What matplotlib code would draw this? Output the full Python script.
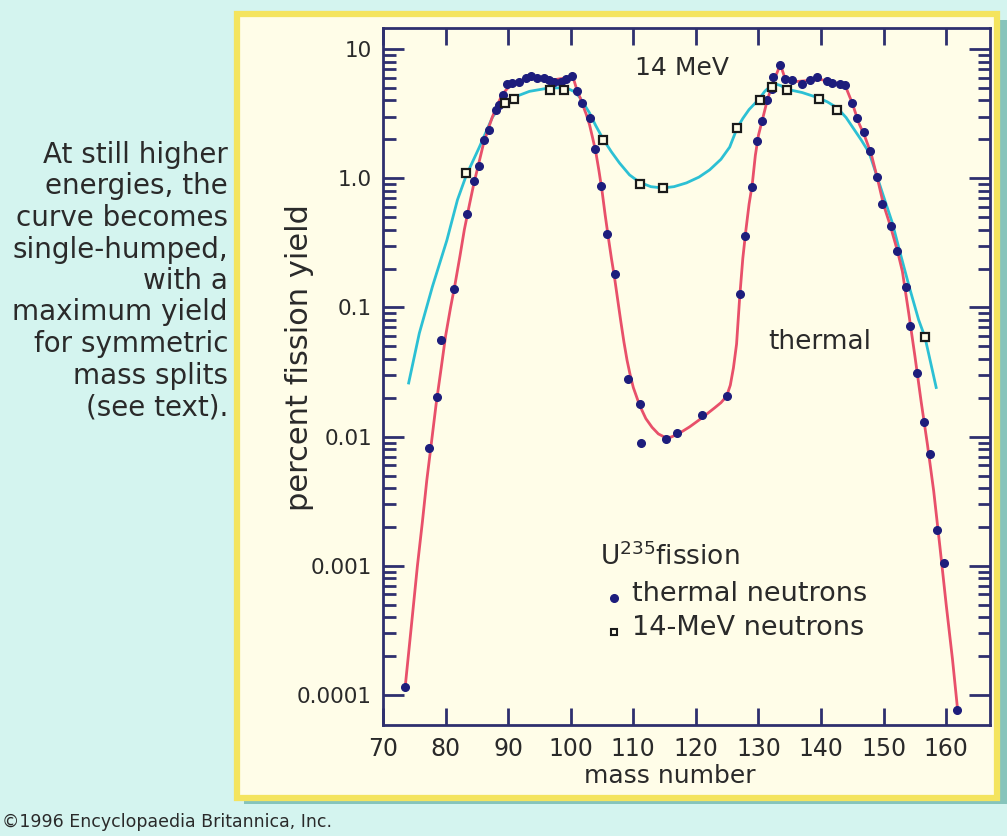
import matplotlib
matplotlib.use('Agg')
import matplotlib.pyplot as plt
from matplotlib.patches import Rectangle
from matplotlib.ticker import FixedLocator, FixedFormatter, NullFormatter

W, H = 1007, 836

# ---------------- data ----------------
thermal_mass = [73.5, 77.4, 78.6, 79.3, 81.4, 83.4, 84.6, 85.4, 86.2, 87.0, 88.1, 88.6,
                89.2, 89.8, 90.6, 91.8, 92.9, 93.7, 94.6, 95.8, 96.6, 97.4, 98.5, 99.3,
                100.2, 101.0, 101.8, 103.0, 103.8, 104.9, 105.8, 107.1, 109.2, 111.0,
                111.3, 115.3, 117.0, 121.0, 124.9, 127.0, 127.9, 129.0, 129.7, 130.6,
                131.4, 132.1, 132.4, 133.5, 134.2, 135.4, 136.9, 138.2, 139.4, 140.9,
                141.8, 143.0, 143.9, 144.9, 145.7, 146.8, 147.9, 148.9, 149.8, 151.1,
                152.2, 153.5, 154.2, 155.4, 156.4, 157.4, 158.5, 159.6, 161.8]
thermal_yield = [1.15e-4, 0.0082, 0.0204, 0.056, 0.138, 0.53, 0.95, 1.24, 1.96, 2.38, 3.4, 3.7,
                 4.4, 5.4, 5.5, 5.6, 6.0, 6.2, 6.0, 6.0, 5.8, 5.6, 5.6, 5.9,
                 6.2, 4.7, 3.8, 2.9, 1.67, 0.87, 0.37, 0.18, 0.028, 0.018,
                 0.0089, 0.0095, 0.0107, 0.0148, 0.0205, 0.126, 0.358, 0.85, 1.93, 2.75,
                 4.0, 4.9, 6.1, 7.5, 5.9, 5.8, 5.4, 5.8, 6.1, 5.7,
                 5.5, 5.4, 5.3, 3.8, 2.9, 2.26, 1.62, 1.03, 0.63, 0.43,
                 0.275, 0.143, 0.072, 0.031, 0.013, 0.0074, 0.0019, 0.00105, 7.6e-5]

mev14_mass = [83.3, 89.5, 91.0, 96.7, 99.0, 105.2, 111.0, 114.8, 126.6, 130.2, 132.1,
              134.5, 139.6, 142.6, 156.6]
mev14_yield = [1.1, 3.85, 4.1, 4.8, 4.8, 1.96, 0.9, 0.84, 2.45, 4.0, 5.1,
               4.8, 4.1, 3.4, 0.059]

thermal_curve_mass = [73.5, 74.5, 75.5, 76.3, 77.0, 77.8, 78.5, 79.3, 80.0, 80.8, 81.5, 82.3,
                      83.0, 83.8, 84.5, 85.3, 86.0, 86.8, 87.5, 88.3, 89.0, 89.8, 90.5, 91.5,
                      92.5, 95.0, 97.5, 99.5, 100.3, 101.0, 101.5, 102.0, 102.5, 103.0, 103.5,
                      104.0, 104.5, 105.0, 105.5, 106.0, 106.5, 107.0, 107.5, 108.0, 108.5,
                      109.0, 109.5, 110.0, 110.5, 111.0, 112.0, 113.0, 114.0, 115.0, 116.0,
                      117.0, 118.0, 119.0, 120.0, 121.0, 122.0, 123.0, 124.0, 124.9, 125.5,
                      126.0, 126.5, 127.0, 127.5, 128.0, 128.5, 129.0, 129.5, 130.0, 130.6,
                      131.4, 132.3, 133.0, 133.5, 134.2, 136.0, 138.0, 140.0, 142.0, 143.8,
                      145.0, 146.0, 147.0, 148.0, 149.0, 150.0, 151.0, 152.2, 153.0, 154.0,
                      155.0, 156.0, 157.0, 158.0, 159.0, 160.0, 161.0, 161.8]
thermal_curve_yield = [1.1e-4, 3.3e-4, 1.0e-3, 2.2e-3, 4.6e-3, 9.5e-3, 0.018, 0.034, 0.06,
                       0.1, 0.15, 0.25, 0.4, 0.62, 0.9, 1.3, 1.8, 2.4, 3.0, 3.7, 4.4, 4.9,
                       5.3, 5.6, 5.8, 6.0, 5.8, 6.0, 6.2, 4.8, 4.2, 3.6, 3.1, 2.6, 2.05,
                       1.6, 1.15, 0.8, 0.52, 0.35, 0.24, 0.17, 0.115, 0.078, 0.054,
                       0.039, 0.030, 0.024, 0.0205, 0.0175, 0.0138, 0.0118, 0.0105, 0.0099, 0.0099,
                       0.0104, 0.0111, 0.0119, 0.0129, 0.014, 0.0153, 0.0167, 0.0183, 0.0205, 0.025,
                       0.034, 0.052, 0.12, 0.24, 0.40, 0.63, 0.89, 1.5, 2.15, 2.8,
                       4.0, 5.5, 6.6, 7.6, 6.0, 5.6, 5.7, 5.8, 5.5, 5.3,
                       3.8, 2.7, 2.1, 1.55, 1.0, 0.62, 0.44, 0.275, 0.19, 0.091,
                       0.042, 0.0186, 0.0087, 0.0038, 0.0014, 5.0e-4, 1.9e-4, 7.9e-5]

mev14_curve_mass = [74.1, 75.8, 77.9, 80.2, 81.9, 83.3, 85.4, 87.5, 89.1, 91.3, 93.4, 96.6,
                    99.3, 100.5, 101.4, 102.2, 103.0, 104.0, 105.2, 106.5, 107.8, 109.4,
                    111.0, 112.8, 114.7, 116.5, 118.5, 120.5, 122.2, 124.0, 125.4, 126.6,
                    127.5, 128.5, 130.1, 131.0, 132.0, 132.8, 133.6, 134.4, 137.0, 139.5,
                    141.0, 142.6, 144.0, 145.0, 146.5, 147.7, 148.5, 150.0, 151.4, 152.5,
                    154.1, 155.6, 156.6, 158.4]
mev14_curve_yield = [0.026, 0.063, 0.145, 0.33, 0.68, 1.05, 1.74, 2.97, 3.8, 4.3, 4.7, 5.0,
                     5.0, 4.7, 4.25, 3.7, 3.2, 2.55, 2.0, 1.6, 1.31, 1.06,
                     0.93, 0.86, 0.84, 0.86, 0.92, 1.02, 1.16, 1.4, 1.74, 2.45,
                     2.9, 3.4, 4.1, 4.7, 5.2, 5.35, 5.2, 4.9, 4.6, 4.2,
                     3.9, 3.5, 2.95, 2.5, 1.95, 1.57, 1.2, 0.72, 0.45, 0.28,
                     0.144, 0.08, 0.059, 0.024]

x_ticks = [70, 80, 90, 100, 110, 120, 130, 140, 150, 160]
y_ticks = [1e-4, 1e-3, 1e-2, 1e-1, 1.0, 10.0]
y_tick_labels = ['0.0001', '0.001', '0.01', '0.1', '1.0', '10']
y_minor = [m * 10.0 ** k for k in range(-4, 1) for m in range(2, 10)]

side_text = ['At still higher', 'energies, the', 'curve becomes', 'single-humped,',
             'with a', 'maximum yield', 'for symmetric', 'mass splits', '(see text).']

# ---------------- colours ----------------
BG = '#d4f4ef'
SHADOW = '#86c4bb'
YELLOW = '#f4e45e'
CREAM = '#fffde8'
AXIS = '#2e2f6e'
DOT = '#1d1d7c'
RED = '#e8506a'
CYAN = '#2cc0d4'
TXT = '#2a2a2a'


def fx(x):
    return x / W


def fy(y):
    return 1 - y / H


plt.rcParams['font.family'] = ['DejaVu Sans']
fig = plt.figure(figsize=(W / 100, H / 100), dpi=100)
fig.patch.set_facecolor(BG)

# shadow + yellow framed panel (behind the axes)
fig.add_artist(Rectangle((fx(244), fy(804)), fx(1007 - 244), (804 - 20) / H,
                         transform=fig.transFigure, facecolor=SHADOW, edgecolor='none', zorder=-3))
fig.add_artist(Rectangle((fx(237), fy(798)), fx(997 - 237), (798 - 14) / H,
                         transform=fig.transFigure, facecolor=CREAM, edgecolor=YELLOW,
                         linewidth=4.5, zorder=-2))

ax_l, ax_r, ax_t, ax_b = 383, 990, 28, 725
ax = fig.add_axes([fx(ax_l), fy(ax_b), fx(ax_r - ax_l), (ax_b - ax_t) / H])
ax.set_zorder(1)
ax.set_facecolor('none')
ax.set_yscale('log')
ax.set_xlim(70, 167)
ax.set_ylim(10 ** -4.232, 10 ** 1.1625)

ax.plot(mev14_curve_mass, mev14_curve_yield, color=CYAN, lw=2.0, zorder=2)
ax.plot(thermal_curve_mass, thermal_curve_yield, color=RED, lw=2.0, zorder=2)
ax.plot(thermal_mass, thermal_yield, 'o', ms=5.5, color=DOT, mec=DOT, zorder=3)
ax.plot(mev14_mass, mev14_yield, 's', ms=6, mfc=CREAM, mec='#1a1a1a', mew=1.6, zorder=4)

for s in ax.spines.values():
    s.set_color(AXIS)
    s.set_linewidth(2.0)

ax.xaxis.set_major_locator(FixedLocator(x_ticks))
ax.xaxis.set_minor_locator(FixedLocator([]))
ax.yaxis.set_major_locator(FixedLocator(y_ticks))
ax.yaxis.set_major_formatter(FixedFormatter(y_tick_labels))
ax.yaxis.set_minor_locator(FixedLocator(y_minor))
ax.yaxis.set_minor_formatter(NullFormatter())

ax.tick_params(axis='x', which='major', direction='in', length=12, width=2, color=AXIS,
               top=True, bottom=True, labelsize=17, labelcolor=TXT, pad=9)
ax.tick_params(axis='y', which='major', direction='in', length=15, width=2, color=AXIS,
               left=True, right=True, labelsize=15.5, labelcolor=TXT, pad=8)
ax.tick_params(axis='y', which='minor', direction='in', length=9, width=2, color=AXIS,
               left=True, right=True)

ax.set_xlabel('mass number', fontsize=18, color=TXT)
ax.xaxis.set_label_coords((670 - ax_l) / (ax_r - ax_l), -(776 - ax_b) / (ax_b - ax_t))
ax.xaxis.label.set_va('center')
ax.set_ylabel('percent fission yield', fontsize=22, color=TXT)
ax.yaxis.set_label_coords(-(ax_l - 300) / (ax_r - ax_l), (ax_b - 358) / (ax_b - ax_t))
ax.yaxis.label.set_va('center')

# annotations
fig.text(fx(682), fy(68), '14 MeV', fontsize=18, color=TXT, ha='center', va='center', zorder=5)
fig.text(fx(820), fy(342), 'thermal', fontsize=19, color=TXT, ha='center', va='center', zorder=5)
fig.text(fx(600), fy(557), r'U$^{235}$fission', fontsize=19, color=TXT, ha='left', va='center',
         zorder=5)
fig.text(fx(632), fy(594), 'thermal neutrons', fontsize=19.5, color=TXT, ha='left', va='center',
         zorder=5)
fig.text(fx(632), fy(628), '14-MeV neutrons', fontsize=19.5, color=TXT, ha='left', va='center',
         zorder=5)
fig.add_artist(plt.Line2D([fx(614)], [fy(598)], marker='o', ms=5.5, color=DOT,
                          transform=fig.transFigure, zorder=5))
fig.add_artist(plt.Line2D([fx(614)], [fy(632)], marker='s', ms=5, mfc=CREAM, mec='#1a1a1a',
                          mew=1.5, transform=fig.transFigure, zorder=5))

for i, line in enumerate(side_text):
    fig.text(fx(228), fy(155 + i * 31.5), line, fontsize=20, color=TXT,
             ha='right', va='center')

fig.text(fx(2), fy(822), '\u00a91996 Encyclopaedia Britannica, Inc.', fontsize=12.5,
         color=TXT, ha='left', va='center')

fig.savefig('out.png', dpi=100, facecolor=BG)
